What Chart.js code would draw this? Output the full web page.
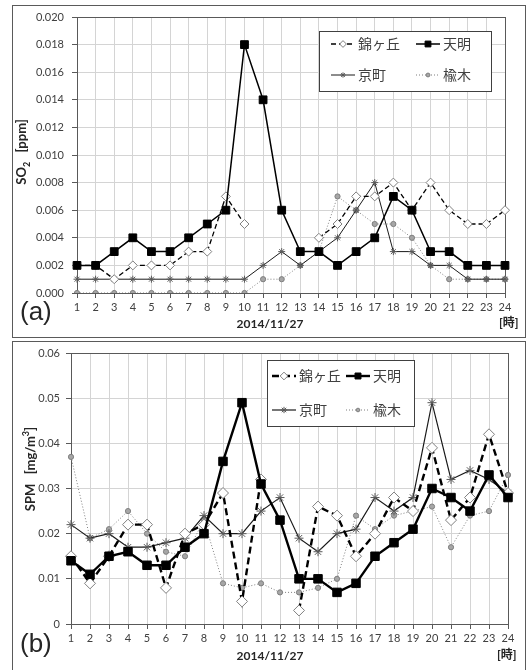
<!DOCTYPE html>
<html>
<head>
<meta charset="utf-8">
<script src="https://cdn.jsdelivr.net/npm/chart.js@4.4.1/dist/chart.umd.min.js"></script>
<style>
body { margin:0; background:#fff; width:527px; height:670px; overflow:hidden; position:relative;
       font-family: Lato, "Noto Sans CJK JP", sans-serif; }
.panel { position:absolute; border:1px solid #5a5a5a; box-sizing:border-box; }
canvas { position:absolute; left:0; }
.lbl { position:absolute; color:#262626; white-space:nowrap; line-height:1; }
.tag { font-size:26px; font-family: "Liberation Sans", sans-serif; }
.axt { font-size:12px; font-weight:bold; font-family: Lato, "Noto Sans CJK JP", sans-serif; }
.yt { font-size:13px; transform: translate(-50%,-50%) rotate(-90deg); }
sub, sup { font-size:9px; font-family: Lato, sans-serif; }
</style>
</head>
<body>
<div class="panel" style="left:12px; top:5px; width:514px; height:333px"></div>
<div class="panel" style="left:12px; top:341px; width:514px; height:340px"></div>

<canvas id="chartSO2" width="527" height="338" style="top:0"></canvas>
<canvas id="chartSPM" width="527" height="330" style="top:340px"></canvas>

<div class="lbl tag" style="left:20px; top:298px">(a)</div>
<div class="lbl axt" style="left:270px; top:318px; transform:translateX(-50%)">2014/11/27</div>
<div class="lbl axt" style="left:499px; top:317px">[時]</div>
<div class="lbl axt yt" style="left:23px; top:152px">SO<sub>2</sub>&nbsp;&nbsp;&nbsp;[ppm]</div>

<div class="lbl tag" style="left:20px; top:630px">(b)</div>
<div class="lbl axt" style="left:270px; top:650px; transform:translateX(-50%)">2014/11/27</div>
<div class="lbl axt" style="left:497px; top:649px">[時]</div>
<div class="lbl axt yt" style="left:29px; top:469px">SPM&nbsp;&nbsp;&nbsp;[mg/m<sup>3</sup>]</div>

<script>
// --- data ---
const hours = ['1','2','3','4','5','6','7','8','9','10','11','12','13','14','15','16','17','18','19','20','21','22','23','24'];
const stations = ['錦ヶ丘', '天明', '京町', '楡木'];

// SO2 [ppm]
const so2Kinga    = [0.002,0.002,0.001,0.002,0.002,0.002,0.003,0.003,0.007,0.005,null,null,null,0.004,0.005,0.007,0.007,0.008,0.006,0.008,0.006,0.005,0.005,0.006];
const so2Tenmei   = [0.002,0.002,0.003,0.004,0.003,0.003,0.004,0.005,0.006,0.018,0.014,0.006,0.003,0.003,0.002,0.003,0.004,0.007,0.006,0.003,0.003,0.002,0.002,0.002];
const so2Kyomachi = [0.001,0.001,0.001,0.001,0.001,0.001,0.001,0.001,0.001,0.001,0.002,0.003,0.002,0.003,0.004,0.006,0.008,0.003,0.003,0.002,0.002,0.001,0.001,0.001];
const so2Nireki   = [0,0,0,0,0,0,0,0,0,0,0.001,0.001,0.002,0.003,0.007,0.006,0.005,0.005,0.004,0.002,0.001,0.001,0.001,0.001];

// SPM [mg/m3]
const spmKinga    = [0.015,0.009,0.015,0.022,0.022,0.008,0.020,0.022,0.029,0.005,0.032,null,0.003,0.026,0.024,0.015,0.020,0.028,0.025,0.039,0.023,0.028,0.042,0.029];
const spmTenmei   = [0.014,0.011,0.015,0.016,0.013,0.013,0.017,0.020,0.036,0.049,0.031,0.023,0.010,0.010,0.007,0.009,0.015,0.018,0.021,0.030,0.028,0.025,0.033,0.028];
const spmKyomachi = [0.022,0.019,0.020,0.017,0.017,0.018,0.019,0.024,0.020,0.020,0.025,0.028,0.019,0.016,0.020,0.021,0.028,0.025,0.028,0.049,0.032,0.034,0.032,0.029];
const spmNireki   = [0.037,0.019,0.021,0.025,0.020,0.016,0.015,0.023,0.009,0.008,0.009,0.007,0.007,0.008,0.010,0.024,0.021,0.024,0.025,0.026,0.017,0.024,0.025,0.033];

const tickFont = { family: 'Lato, "Noto Sans CJK JP", sans-serif', size: 11 };
const gridColor = '#d4d4d4';


// --- marker drawing for the legend (same shapes as the chart points) ---
function drawMarker(ctx, ds, x, y, scale) {
    var r = ds.pointRadius * scale;
    ctx.lineWidth = ds.pointBorderWidth || 1;
    ctx.strokeStyle = ds.pointBorderColor;
    ctx.fillStyle = ds.pointBackgroundColor;
    ctx.beginPath();
    if (ds.pointStyle === 'rectRot') {
        ctx.moveTo(x, y - r); ctx.lineTo(x + r, y); ctx.lineTo(x, y + r); ctx.lineTo(x - r, y);
        ctx.closePath(); ctx.fill(); ctx.stroke();
    } else if (ds.pointStyle === 'rect') {
        var s = r * Math.SQRT1_2;
        ctx.rect(x - s, y - s, 2 * s, 2 * s); ctx.fill(); ctx.stroke();
    } else if (ds.pointStyle === 'star') {
        var d = r * Math.SQRT1_2;
        ctx.moveTo(x - r, y); ctx.lineTo(x + r, y);
        ctx.moveTo(x, y - r); ctx.lineTo(x, y + r);
        ctx.moveTo(x - d, y - d); ctx.lineTo(x + d, y + d);
        ctx.moveTo(x - d, y + d); ctx.lineTo(x + d, y - d);
        ctx.stroke();
    } else {
        ctx.arc(x, y, r, 0, Math.PI * 2); ctx.fill(); ctx.stroke();
    }
}

// boxed legend inside the plot (2 x 2)
const boxLegend = {
    id: 'boxLegend',
    afterDatasetsDraw(chart, args, opts) {
        const ctx = chart.ctx;
        ctx.save();
        ctx.fillStyle = '#fff';
        ctx.fillRect(opts.x, opts.y, opts.w, opts.h);
        ctx.strokeStyle = '#404040';
        ctx.lineWidth = 1;
        ctx.strokeRect(opts.x + 0.5, opts.y + 0.5, opts.w, opts.h);
        chart.data.datasets.forEach((ds, i) => {
            const lx = opts.x + opts.colX[i % 2];
            const ly = opts.y + opts.rowY[Math.floor(i / 2)];
            ctx.setLineDash(ds.borderDash || []);
            ctx.lineWidth = ds.borderWidth;
            ctx.strokeStyle = ds.borderColor;
            ctx.beginPath();
            ctx.moveTo(lx, ly);
            ctx.lineTo(lx + opts.lineLen, ly);
            ctx.stroke();
            ctx.setLineDash([]);
            drawMarker(ctx, ds, lx + opts.lineLen / 2, ly, opts.markerScale);
            ctx.fillStyle = '#404040';
            ctx.font = '14px "Noto Sans CJK JP", sans-serif';
            ctx.textBaseline = 'middle';
            ctx.fillText(ds.label, lx + opts.lineLen + 3, ly);
        });
        ctx.restore();
    }
};

// dark frame round the plot area
const plotFrame = {
    id: 'plotFrame',
    beforeDatasetsDraw(chart) {
        const a = chart.chartArea, ctx = chart.ctx;
        ctx.save();
        ctx.strokeStyle = '#595959';
        ctx.lineWidth = 1;
        ctx.strokeRect(Math.round(a.left) + 0.5, Math.round(a.top) + 0.5,
                       Math.round(a.right - a.left), Math.round(a.bottom - a.top));
        ctx.restore();
    }
};


// order: 天明 on top, then 錦ヶ丘, 京町, 楡木 underneath
function makeDatasets(values, big) {
    return [
        {
            label: stations[0], data: values[0], order: 1,
            borderColor: '#000', borderWidth: big ? 2.4 : 1.3, borderDash: big ? [7, 4] : [5, 3],
            pointStyle: 'rectRot', pointRadius: big ? 5.5 : 4.5,
            pointBackgroundColor: '#fff', pointBorderColor: '#7f7f7f', pointBorderWidth: 1
        },
        {
            label: stations[1], data: values[1], order: 0,
            borderColor: '#000', borderWidth: big ? 2.4 : 1.5,
            pointStyle: 'rect', pointRadius: big ? 6 : 5.5,
            pointBackgroundColor: '#000', pointBorderColor: '#000', pointBorderWidth: 1
        },
        {
            label: stations[2], data: values[2], order: 2,
            borderColor: '#1a1a1a', borderWidth: big ? 1.2 : 1,
            pointStyle: 'star', pointRadius: big ? 4.5 : 3.5,
            pointBackgroundColor: '#595959', pointBorderColor: '#595959', pointBorderWidth: 1
        },
        {
            label: stations[3], data: values[3], order: 3,
            borderColor: '#7f7f7f', borderWidth: 1, borderDash: [1, 2],
            pointStyle: 'circle', pointRadius: 2.6,
            pointBackgroundColor: '#a6a6a6', pointBorderColor: '#7f7f7f', pointBorderWidth: 1
        }
    ];
}


/** Creates one panel.
 * yMax/yStep: value axis, fmt: tick label text, area: wanted plot box on the canvas
 */
function createLineGraph(canvas, values, big, yMax, yStep, fmt, area, legendOpts) {
    const config = {
        type: 'line',
        data: { labels: hours, datasets: makeDatasets(values, big) },
        plugins: [plotFrame, boxLegend],
        options: {
            responsive: false,
            animation: false,
            devicePixelRatio: 1,
            layout: { padding: { left: 0, top: area.top, right: canvas.width - area.right, bottom: 0 } },
            plugins: { legend: { display: false }, tooltip: { enabled: false }, boxLegend: legendOpts },
            scales: {
                x: {
                    offset: false,
                    grid: { color: gridColor, tickLength: 5, tickColor: '#595959' },
                    border: { color: '#595959' },
                    ticks: { font: tickFont, color: '#404040', autoSkip: false, maxRotation: 0, padding: 3 },
                    afterFit: (s) => { s.height = canvas.height - area.bottom; }
                },
                y: {
                    min: 0, max: yMax,
                    grid: {
                        color: gridColor, tickLength: 5,
                        tickColor: (c) => fmt(c.tick.value) === '' ? 'rgba(0,0,0,0)' : '#595959'
                    },
                    border: { color: '#595959' },
                    ticks: { stepSize: yStep, font: tickFont, color: '#404040', padding: area.yPad,
                             callback: (v) => fmt(v) },
                    afterFit: (s) => { s.width = area.left; }
                }
            }
        }
    };
    return new Chart(canvas, config);
}


// (a) SO2, grid every 0.001, labels every 0.002
createLineGraph(
    document.getElementById('chartSO2'),
    [so2Kinga, so2Tenmei, so2Kyomachi, so2Nireki], false,
    0.02, 0.001,
    (v) => (Math.round(v * 1000) % 2 === 0 ? v.toFixed(3) : ''),
    { left: 77, right: 505, top: 17, bottom: 293, yPad: 8 },
    { x: 319, y: 31, w: 172, h: 60, colX: [12, 97], rowY: [13, 44], lineLen: 24, markerScale: 0.75 }
);

// (b) SPM
createLineGraph(
    document.getElementById('chartSPM'),
    [spmKinga, spmTenmei, spmKyomachi, spmNireki], true,
    0.06, 0.01,
    (v) => (Math.abs(v) < 1e-9 ? '0' : v.toFixed(2)),
    { left: 71, right: 508, top: 13, bottom: 284, yPad: 6 },
    { x: 267, y: 20, w: 147, h: 66, colX: [5, 79], rowY: [16, 50], lineLen: 24, markerScale: 0.7 }
);
</script>
</body>
</html>
